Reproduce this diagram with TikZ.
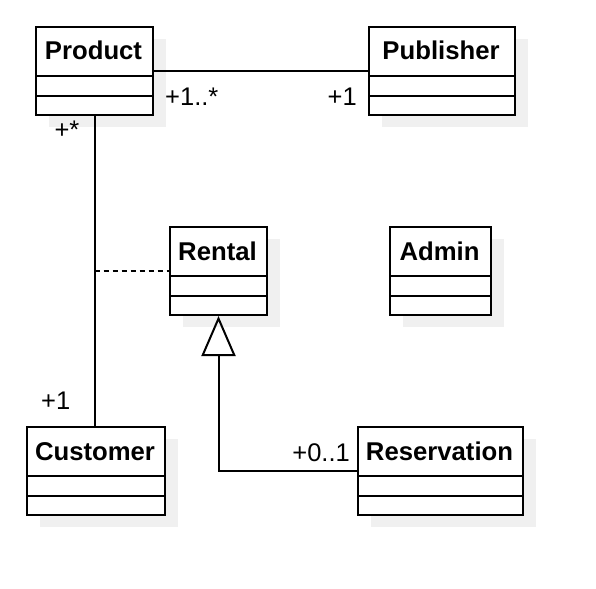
\documentclass[tikz,border=0pt]{standalone}
\usepackage{fontspec}
\setmainfont{Liberation Sans}
\usetikzlibrary{arrows.meta}
\definecolor{shadowgray}{RGB}{240,240,240}
\tikzset{
  classbox/.style={draw, fill=white, line width=2pt, inner sep=0pt, anchor=north west},
  title/.style={font=\bfseries\fontsize{25.7}{30}\selectfont, anchor=base, inner sep=0pt},
  mult/.style={font=\fontsize{25.5}{30}\selectfont, inner sep=0pt},
  conn/.style={line width=2pt},
  dep/.style={line width=1.6pt, dash pattern=on 5pt off 4pt},
}
\newcommand{\umlclass}[6]{%
  \fill[shadowgray] ({#2+14},{#3+13}) rectangle ({#4+14},{#5+13});
  \node[classbox, minimum width={#4-#2}, minimum height={#5-#3}] (#1) at (#2,#3) {};
  \draw[conn] ({#2},{#3+50}) -- ({#4},{#3+50}) ({#2},{#3+70}) -- ({#4},{#3+70});
  \node[title] (#1-t) at ({(#2+#4)/2},{#3+34}) {#6};
}
\begin{document}
\begin{tikzpicture}[x=1pt,y=-1pt]
\useasboundingbox[fill=white] (0,0) rectangle (596,588);
\umlclass{prod}{35}{26}{152}{114}{Product}
\umlclass{pub}{368}{26}{514}{114}{Publisher}
\umlclass{rental}{169}{226}{266}{314}{Rental}
\umlclass{admin}{389}{226}{490}{314}{Admin}
\umlclass{cust}{26}{426}{164}{514}{Customer}
\umlclass{res}{357}{426}{522}{514}{Reservation}
% associations
\draw[conn] (prod.east) -- (pub.west);
\draw[conn] (prod.south) -- (prod.south |- cust.north);
\coordinate (dj) at (prod.south |- rental.west);
\draw[dep] (dj) -- (rental.west);
\draw[conn, -{Triangle[open, length=40pt, width=34pt]}] (res.west) -| (rental.south);
% multiplicities
\node[mult, anchor=base west] (m1) at (165,106) {+1..*};
\node[mult, anchor=base east] (m2) at (357,106) {+1};
\node[mult, anchor=base] (m3) at (67,139) {+*};
\node[mult, anchor=base west] (m4) at (41,409) {+1};
\node[mult, anchor=base east] (m5) at (350,461) {+0..1};
\end{tikzpicture}
\end{document}
